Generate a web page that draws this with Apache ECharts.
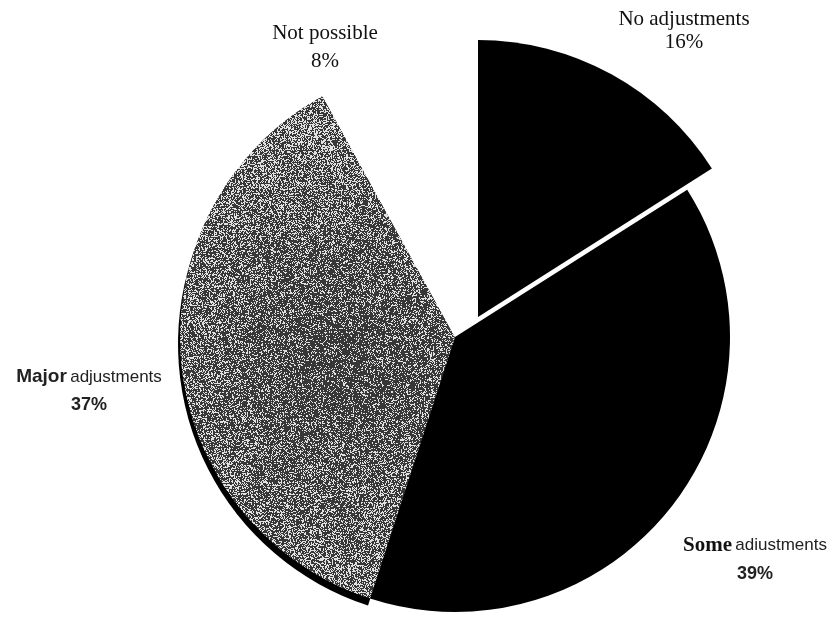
<!DOCTYPE html>
<html>
<head>
<meta charset="utf-8">
<script src="https://cdn.jsdelivr.net/npm/echarts@6/dist/echarts.min.js"></script>
<style>
  html, body { margin: 0; padding: 0; background: #fff; }
  #chart { width: 829px; height: 617px; }
</style>
</head>
<body>
<div id="chart"></div>
<script>
// Survey answers and their shares (percent)
const categories = ['No adjustments', 'Some adiustments', 'Major adjustments', 'Not possible'];
const shares = [16, 39, 37, 8];

// Fill colours per slice (index 2 gets a grainy halftone texture)
const sliceColors = ['#000000', '#000000', null, '#ffffff'];

// Grainy halftone texture for the grey slice: darker toward its middle
function grainTexture() {
  const w = 829, h = 617;
  const c = document.createElement('canvas');
  c.width = w; c.height = h;
  const ctx = c.getContext('2d');
  const img = ctx.createImageData(w, h);
  const fract = v => v - Math.floor(v);
  for (let y = 0; y < h; y++) {
    for (let x = 0; x < w; x++) {
      const n = fract(Math.sin(x * 12.9898 + y * 78.233) * 43758.5453);
      const d = Math.hypot(x - 335, y - 360);
      let p = 0.22 + 0.3 * Math.min(1, d / 230);
      if (x % 3 === 0 || y % 3 === 0) p *= 0.7;
      const lum = n < p ? 225 : 55;
      const i = (y * w + x) * 4;
      img.data[i] = img.data[i + 1] = img.data[i + 2] = lum;
      img.data[i + 3] = 255;
    }
  }
  ctx.putImageData(img, 0, 0);
  return c;
}

const grain = { image: grainTexture(), repeat: 'no-repeat' };

// Label placement (block centres) and text styling per slice
const labelPos = [[684, 31], [755, 560], [89, 391], [325, 47]];

function labelText(p) {
  const pct = p.value + '%';
  switch (p.dataIndex) {
    case 0: return '{n|' + p.name + '}\n{n|' + pct + '}';
    case 1: {
      const parts = p.name.split(' ');
      return '{sb|' + parts[0] + '} {sl|' + parts.slice(1).join(' ') + '}\n{pb|' + pct + '}';
    }
    case 2: {
      const parts = p.name.split(' ');
      return '{mb|' + parts[0] + '} {ml|' + parts.slice(1).join(' ') + '}\n{qb|' + pct + '}';
    }
    default: return '{t|' + p.name + '}\n{t|' + pct + '}';
  }
}

const serif = '"Liberation Serif", "Times New Roman", serif';
const sans = '"Liberation Sans", Arial, sans-serif';

const rich = {
  n: { fontFamily: serif, fontSize: 21, color: '#111', lineHeight: 23 },
  t: { fontFamily: serif, fontSize: 21, color: '#111', lineHeight: 28 },
  sb: { fontFamily: serif, fontSize: 21, fontWeight: 'bold', color: '#111', lineHeight: 29 },
  sl: { fontFamily: sans, fontSize: 17, color: '#222', lineHeight: 29 },
  pb: { fontFamily: sans, fontSize: 18, fontWeight: 'bold', color: '#222', lineHeight: 29 },
  mb: { fontFamily: sans, fontSize: 19, fontWeight: 'bold', color: '#222', lineHeight: 28 },
  ml: { fontFamily: sans, fontSize: 17, color: '#222', lineHeight: 28 },
  qb: { fontFamily: sans, fontSize: 18, fontWeight: 'bold', color: '#222', lineHeight: 28 }
};

// Main pie: the first slice is left empty here and drawn pulled out below
const mainData = categories.map((name, i) => ({
  name,
  value: shares[i],
  itemStyle: i === 0
    ? { color: 'rgba(0,0,0,0)' }
    : i === 2
      ? { color: grain, shadowColor: '#000', shadowBlur: 1, shadowOffsetX: -2, shadowOffsetY: 7 }
      : { color: sliceColors[i] }
}));

// Pulled-out slice: same data, only the first slice painted
const pulledData = categories.map((name, i) => ({
  name,
  value: shares[i],
  itemStyle: { color: i === 0 ? sliceColors[0] : 'rgba(0,0,0,0)' }
}));

const chart = echarts.init(document.getElementById('chart'), null, { renderer: 'canvas' });
chart.setOption({
  backgroundColor: '#ffffff',
  animation: false,
  series: [
    {
      type: 'pie',
      center: [455, 337],
      radius: 275,
      startAngle: 90,
      clockwise: true,
      avoidLabelOverlap: false,
      silent: true,
      emphasis: { disabled: true },
      data: mainData,
      label: {
        show: true,
        position: 'outside',
        formatter: labelText,
        rich
      },
      labelLine: { show: false },
      labelLayout: function (params) {
        const pos = labelPos[params.dataIndex];
        return { x: pos[0], y: pos[1], align: 'center', verticalAlign: 'middle' };
      }
    },
    {
      type: 'pie',
      center: [478, 317],
      radius: 277,
      startAngle: 90,
      clockwise: true,
      silent: true,
      emphasis: { disabled: true },
      data: pulledData,
      label: { show: false },
      labelLine: { show: false }
    }
  ]
});
</script>
</body>
</html>
